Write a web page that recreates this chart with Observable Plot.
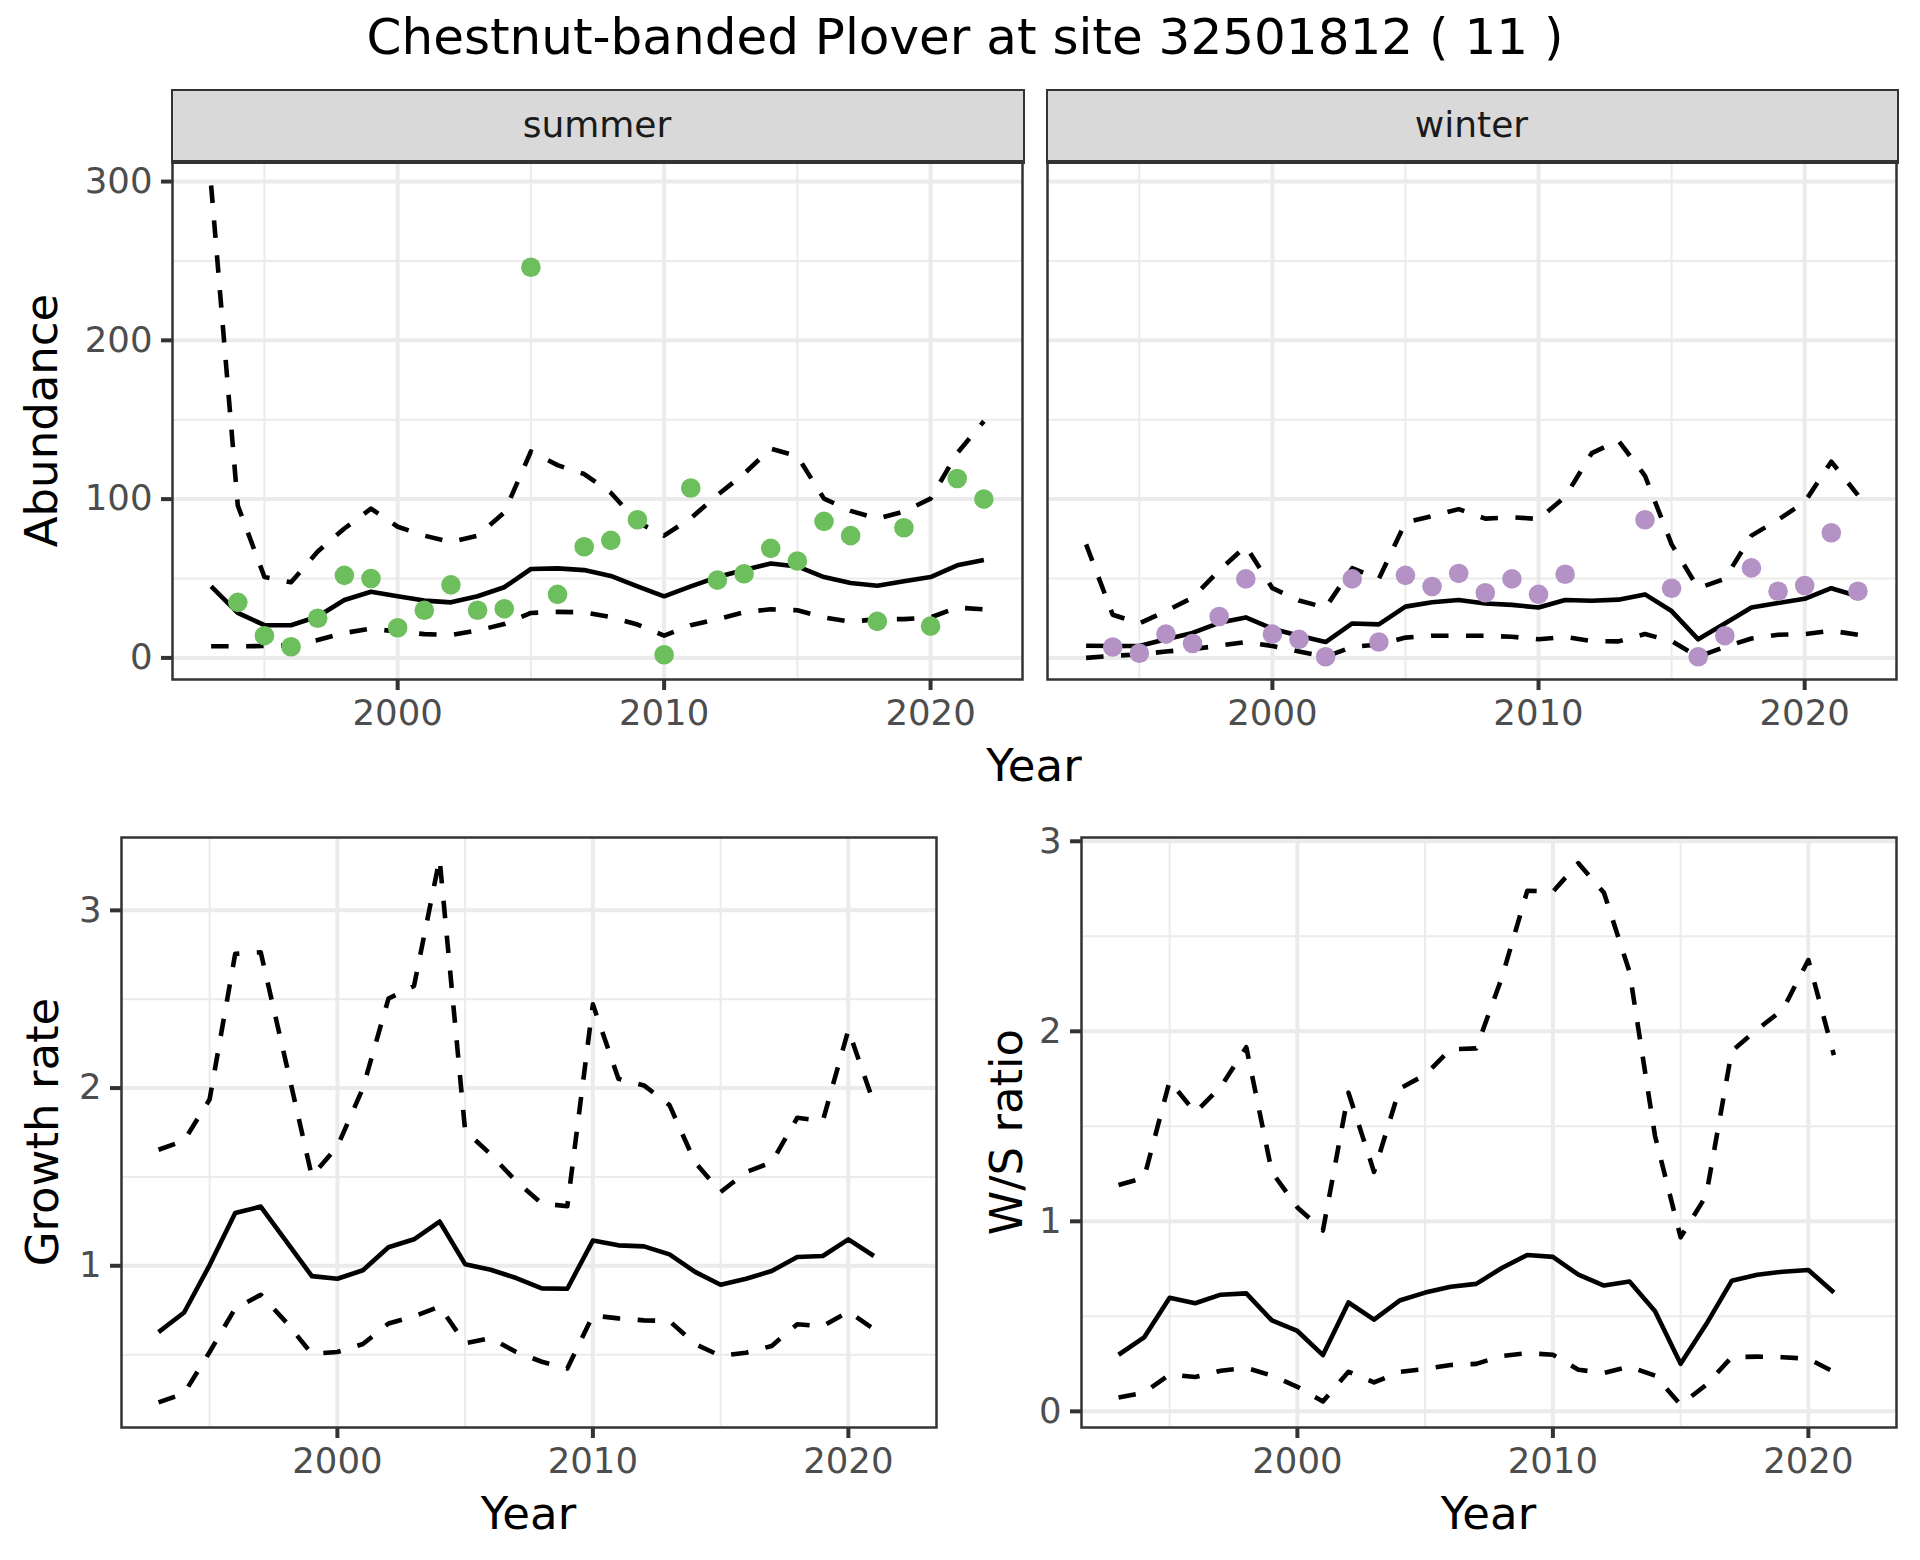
<!DOCTYPE html>
<html>
<head>
<meta charset="utf-8">
<script src="https://cdn.jsdelivr.net/npm/d3@7"></script>
<script src="https://cdn.jsdelivr.net/npm/@observablehq/plot@0.6"></script>
<style>
  body { margin: 0; background: #fff; font-family: "DejaVu Sans", sans-serif; }
  #root { position: relative; width: 1920px; height: 1560px; background: #fff; overflow: hidden; }
  #root > svg, #root > div { position: absolute; }
</style>
</head>
<body>
<div id="root"></div>
<script>
// ---------------- DATA ----------------
const years = [1993,1994,1995,1996,1997,1998,1999,2000,2001,2002,2003,2004,2005,2006,2007,
               2008,2009,2010,2011,2012,2013,2014,2015,2016,2017,2018,2019,2020,2021,2022];

const summerObs   = [null,35,14,7,25,52,50,19,30,46,30,31,246,40,70,74,87,2,107,49,53,69,61,86,77,23,82,20,113,100];
const summerMean  = [45,28.4,20.6,20.6,26.1,36.5,41.7,38.8,36.1,35,38.8,44.5,56,56.4,55.3,51.6,45,38.8,45,50.9,55.3,59.4,57.6,50.9,47.2,45.4,48.3,50.9,58.3,61.6];
const summerUpper = [297.5,96,51,47.6,67,81.5,94,82.6,77,73,77,91.5,130,121.4,115.8,104,85.5,77,88,102.5,116,131.8,127,100.3,92.6,87.7,92.2,100.3,129,149];
const summerLower = [7.3,7.3,7.5,8,11.3,15.7,18.4,16.6,15,14.4,17.3,21.3,28.3,29,28.7,25.7,21,14,20.6,24.4,28.8,30.6,30,25.5,22.8,24.4,24.4,25.5,31.7,30.6];

const winterObs   = [null,6.9,2.9,15,9.1,26.1,49.8,15,11.7,0.7,49.8,10,52,45,53.2,41,49.8,40,52.7,null,null,87,43.9,0.7,14,56.7,42,45.6,78.8,42];
const winterMean  = [7.7,7.5,7.5,11.7,15.7,22.1,25.5,18.4,14,10,21.7,21.1,32.3,35,36.5,34.3,33.4,31.7,36.5,36,36.7,40,29.5,11.7,21.7,31.7,34.6,37.2,43.9,38.8];
const winterUpper = [71.5,27.2,21.7,29.5,37.9,55,70.4,43.9,36.1,31.7,56.5,49.8,85.3,89.3,93.7,87.7,88.6,87.5,101.4,129,136.9,114.7,71.5,43.9,49.8,77,87,98.1,123.6,102.5];
const winterLower = [0,1.3,2.2,4,5.5,7.7,10,7.5,4,0.7,6.9,8.4,12.8,14,14,14,13.3,11.7,13.3,10.6,10.4,15,10.6,0.7,6.9,12.2,14.6,15,17.1,14.6];

// growth rate and W/S ratio: 1993..2021
const growthMean  = [0.627,0.737,1.004,1.297,1.333,1.137,0.942,0.927,0.975,1.104,1.149,1.249,1.009,0.978,0.931,0.873,0.871,1.142,1.115,1.109,1.064,0.966,0.893,0.927,0.971,1.049,1.055,1.149,1.055];
const growthUpper = [1.653,1.704,1.937,2.755,2.764,2.137,1.504,1.671,2.0,2.504,2.575,3.29,1.76,1.627,1.475,1.351,1.335,2.471,2.053,2.015,1.904,1.582,1.415,1.527,1.582,1.833,1.815,2.327,1.915];
const growthLower = [0.231,0.282,0.515,0.76,0.837,0.682,0.504,0.515,0.56,0.675,0.715,0.771,0.564,0.593,0.515,0.46,0.422,0.72,0.704,0.693,0.689,0.56,0.493,0.511,0.549,0.671,0.66,0.742,0.644];

const ratioMean   = [0.298,0.389,0.598,0.569,0.614,0.621,0.479,0.423,0.296,0.573,0.483,0.583,0.625,0.656,0.671,0.754,0.823,0.813,0.719,0.662,0.683,0.527,0.25,0.458,0.687,0.719,0.735,0.744,0.625];
const ratioUpper  = [1.191,1.229,1.739,1.573,1.708,1.916,1.26,1.073,0.952,1.677,1.26,1.698,1.771,1.906,1.91,2.281,2.74,2.735,2.885,2.729,2.313,1.448,0.916,1.135,1.896,2.01,2.114,2.375,1.875];
const ratioLower  = [0.073,0.098,0.194,0.181,0.214,0.229,0.188,0.129,0.052,0.208,0.152,0.208,0.223,0.244,0.25,0.291,0.306,0.298,0.219,0.202,0.235,0.188,0.035,0.139,0.285,0.288,0.285,0.277,0.208];

const xMajorTicks = [2000, 2010, 2020];
const xMinorTicks = [1995, 2005, 2015];
const abundMajor = [0, 100, 200, 300];
const abundMinor = [50, 150, 250];
const growthMajorTicks = [1, 2, 3];
const growthMinorTicks = [0.5, 1.5, 2.5];
const ratioMajorTicks = [0, 1, 2, 3];
const ratioMinorTicks = [0.5, 1.5, 2.5];

const titleText = "Chestnut-banded Plover at site 32501812 ( 11 )";
const facetLabels = ["summer", "winter"];
const summerColor = "#6DBE5C";
const winterColor = "#B492C6";

// ---------------- TABLES ----------------
function table(mean, upper, lower, obs) {
  return mean.map((m, i) => ({year: years[i], mean: m, upper: upper[i], lower: lower[i], obs: obs ? obs[i] : null}));
}
const summerRows = table(summerMean, summerUpper, summerLower, summerObs);
const winterRows = table(winterMean, winterUpper, winterLower, winterObs);
const growthRows = table(growthMean, growthUpper, growthLower, null);
const ratioRows  = table(ratioMean, ratioUpper, ratioLower, null);

const root = document.getElementById("root");
const FONT = '"DejaVu Sans", sans-serif';
const LW = 4.6, DASH = "17.5,17.5";

function panel(cfg) {
  const {left, top, w, h, domain, yMajor, yMinor, showY, rows, color} = cfg;
  const ml = 140, mr = 6, mt = 6, mb = 80;
  const grid = {stroke: "#EBEBEB", strokeOpacity: 1};
  const marks = [
    Plot.gridX({ticks: xMinorTicks, ...grid, strokeWidth: 2}),
    Plot.gridY({ticks: yMinor, ...grid, strokeWidth: 2}),
    Plot.gridX({ticks: xMajorTicks, ...grid, strokeWidth: 4}),
    Plot.gridY({ticks: yMajor, ...grid, strokeWidth: 4}),
    Plot.line(rows, {x: "year", y: "lower", stroke: "#000", strokeWidth: LW, strokeDasharray: DASH, strokeLinecap: "butt"}),
    Plot.line(rows, {x: "year", y: "upper", stroke: "#000", strokeWidth: LW, strokeDasharray: DASH, strokeLinecap: "butt"}),
    Plot.line(rows, {x: "year", y: "mean", stroke: "#000", strokeWidth: LW, strokeLinecap: "butt"})
  ];
  if (color) marks.push(Plot.dot(rows.filter(d => d.obs != null), {x: "year", y: "obs", r: 9.8, fill: color, stroke: "none"}));
  marks.push(Plot.frame({stroke: "#333333", strokeWidth: 2.5}));
  marks.push(Plot.axisX({ticks: xMajorTicks, tickSize: 11, tickPadding: 9, tickFormat: d => String(d),
    stroke: "#333333", strokeWidth: 4, fill: "#4D4D4D", fontSize: 35.5, label: null}));
  if (showY) marks.push(Plot.axisY({ticks: yMajor, tickSize: 11, tickPadding: 9, tickFormat: d => String(d),
    stroke: "#333333", strokeWidth: 4, fill: "#4D4D4D", fontSize: 35.5, label: null}));
  const svg = Plot.plot({
    width: w + ml + mr, height: h + mt + mb,
    marginLeft: ml, marginRight: mr, marginTop: mt, marginBottom: mb,
    x: {domain: [1991.55, 2023.45]},
    y: {domain, axis: showY ? undefined : null},
    style: {fontFamily: FONT, background: "transparent", overflow: "visible"},
    marks
  });
  svg.style.left = (left - ml) + "px";
  svg.style.top = (top - mt) + "px";
  svg.style.position = "absolute";
  root.appendChild(svg);
}

const topY = 162, topH = 679 - 162;
const botY = 837, botH = 1427 - 837;

panel({left: 172, top: topY, w: 1022 - 172, h: topH, domain: [-13.6, 312], yMajor: abundMajor, yMinor: abundMinor, showY: true, rows: summerRows, color: summerColor});
panel({left: 1047, top: topY, w: 1896 - 1047, h: topH, domain: [-13.6, 312], yMajor: abundMajor, yMinor: abundMinor, showY: false, rows: winterRows, color: winterColor});
panel({left: 121, top: botY, w: 936 - 121, h: botH, domain: [0.09, 3.41], yMajor: growthMajorTicks, yMinor: growthMinorTicks, showY: true, rows: growthRows, color: null});
panel({left: 1081, top: botY, w: 1896 - 1081, h: botH, domain: [-0.085, 3.02], yMajor: ratioMajorTicks, yMinor: ratioMinorTicks, showY: true, rows: ratioRows, color: null});

// strips
[[172, 1022], [1047, 1896]].forEach(([a, b]) => {
  const d = document.createElement("div");
  d.style.cssText = `left:${a - 1.25}px;top:89px;width:${b - a}px;height:${topY - 89 - 2.5}px;background:#D9D9D9;border:2.5px solid #333333;position:absolute;`;
  root.appendChild(d);
  const line = document.createElement("div");
  line.style.cssText = `left:${a - 1.25}px;top:${topY - 2.5}px;width:${b - a + 2.5}px;height:4.5px;background:#333333;position:absolute;`;
  root.appendChild(line);
});

// text overlay
const ov = d3.select(root).append("svg")
  .attr("width", 1920).attr("height", 1560)
  .style("position", "absolute").style("left", "0px").style("top", "0px")
  .style("font-family", FONT);

ov.append("text").attr("x", 965).attr("y", 54).attr("text-anchor", "middle")
  .attr("font-size", 50).attr("fill", "#000").text(titleText);

ov.append("text").attr("x", (172 + 1022) / 2).attr("y", 137).attr("text-anchor", "middle")
  .attr("font-size", 36).attr("fill", "#1A1A1A").text(facetLabels[0]);
ov.append("text").attr("x", (1047 + 1896) / 2).attr("y", 137).attr("text-anchor", "middle")
  .attr("font-size", 36).attr("fill", "#1A1A1A").text(facetLabels[1]);

function xTitle(x, y, t) {
  ov.append("text").attr("x", x).attr("y", y).attr("text-anchor", "middle").attr("font-size", 45).attr("fill", "#000").text(t);
}
function yTitle(x, y, t) {
  ov.append("text").attr("transform", `translate(${x},${y}) rotate(-90)`).attr("text-anchor", "middle")
    .attr("font-size", 45).attr("fill", "#000").text(t);
}
xTitle(1034, 781, "Year");
xTitle((121 + 936) / 2, 1529, "Year");
xTitle((1081 + 1896) / 2, 1529, "Year");
yTitle(57, (162 + 679) / 2, "Abundance");
yTitle(58, (837 + 1427) / 2, "Growth rate");
yTitle(1022, (837 + 1427) / 2, "W/S ratio");
</script>
</body>
</html>
